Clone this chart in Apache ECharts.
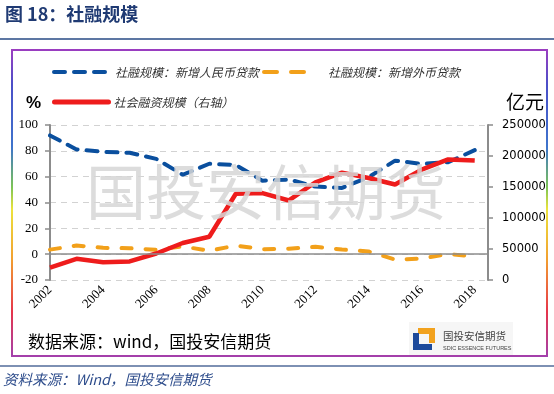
<!DOCTYPE html>
<html>
<head>
<meta charset="utf-8">
<script src="https://cdn.jsdelivr.net/npm/echarts@6/dist/echarts.min.js"></script>
<style>
html,body{margin:0;padding:0;background:#fff;}
#c{width:554px;height:394px;}
</style>
</head>
<body>
<div id="c"></div>
<script>
const years = [2002,2003,2004,2005,2006,2007,2008,2009,2010,2011,2012,2013,2014,2015,2016,2017,2018];
const rmbLoanShare = [91.9,81.1,79.2,78.5,73.8,61.5,70.0,69.0,56.9,57.8,52.3,51.3,59.6,72.4,69.9,71.2,80.5];
const fxLoanShare = [3.5,6.7,4.9,4.6,3.4,6.0,2.6,6.7,3.8,4.2,5.7,3.6,2.1,-4.2,-3.4,0.1,-1.9];
const tsfScale = [20112,34113,28629,30008,42696,59663,69802,139104,140191,128286,157631,173169,164571,154086,178022,194430,192584];
const xTickYears = [2002,2004,2006,2008,2010,2012,2014,2016,2018];
const seriesNames = ['社融规模：新增人民币贷款','社融规模：新增外币贷款','社会融资规模（右轴）'];

const pair = (vals) => years.map((y,i)=>[y, vals[i]]);
const chart = echarts.init(document.getElementById('c'));
const legendText = {fontSize:12, fontStyle:'italic', color:'#333', fontFamily:'Noto Sans CJK SC'};
const noSym = {color:'transparent', borderColor:'transparent', borderWidth:0, opacity:0};
const option = {
  animation:false,
  backgroundColor:'#fff',
  grid:{left:50, right:66, top:125, bottom:114, containLabel:false},
  legend:[
    {data:[seriesNames[0]], left:52, top:66, padding:0, itemWidth:56, itemHeight:14, itemGap:0, textStyle:legendText, itemStyle:noSym,
      lineStyle:{width:4, color:'#0a4f9e', type:[11,9], cap:'round'}},
    {data:[seriesNames[1]], left:262, top:66, padding:0, itemWidth:51, itemHeight:14, itemGap:0, textStyle:legendText, itemStyle:noSym, formatter:'   {name}',
      lineStyle:{width:4, color:'#f2a01a', type:[13,14], cap:'round'}},
    {data:[seriesNames[2]], left:52, top:96, padding:0, itemWidth:54, itemHeight:14, itemGap:0, textStyle:legendText, itemStyle:noSym,
      lineStyle:{width:5, color:'#ee1c1c', type:'solid', cap:'round'}}
  ],
  xAxis:{
    type:'value', min:2002, max:2018.5, interval:2,
    axisLine:{show:false, onZero:false}, axisTick:{show:false}, splitLine:{show:false},
    axisLabel:{rotate:45, margin:8, fontFamily:'Liberation Serif', fontSize:13, color:'#000',
      formatter:(v)=> xTickYears.includes(v) ? String(v) : ''}
  },
  yAxis:[
    {type:'value', min:-20, max:100, interval:20, position:'left',
      axisLine:{show:true, lineStyle:{color:'#8c8c8c', width:2}},
      axisTick:{show:true, length:5, lineStyle:{color:'#8c8c8c', width:1.5}},
      axisLabel:{fontFamily:'Liberation Serif', fontSize:13, color:'#000', margin:12},
      splitLine:{show:true, lineStyle:{color:'#d2d2d2', type:[6,5], width:1.2}}},
    {type:'value', min:0, max:250000, interval:50000, position:'right',
      axisLine:{show:true, lineStyle:{color:'#8c8c8c', width:2}},
      axisTick:{show:true, length:5, lineStyle:{color:'#8c8c8c', width:1.5}},
      axisLabel:{fontFamily:'DejaVu Sans', fontSize:11.5, color:'#000', margin:14, formatter:(v)=>String(v)},
      splitLine:{show:false}}
  ],
  series:[
    {name:seriesNames[0], type:'line', yAxisIndex:0, data:pair(rmbLoanShare), symbol:'none',
      lineStyle:{color:'#0a4f9e', width:4, type:[11,9], cap:'round'}, itemStyle:{color:'#0a4f9e'}, z:3,
      markLine:{silent:true, symbol:'none', label:{show:false},
        lineStyle:{color:'#8c8c8c', width:1.5, type:'solid'}, data:[{yAxis:0}]}},
    {name:seriesNames[1], type:'line', yAxisIndex:0, data:pair(fxLoanShare), symbol:'none',
      lineStyle:{color:'#f2a01a', width:4, type:[10,14], cap:'round'}, itemStyle:{color:'#f2a01a'}, z:3},
    {name:seriesNames[2], type:'line', yAxisIndex:1, data:pair(tsfScale), symbol:'none',
      lineStyle:{color:'#ee1c1c', width:4.5, type:'solid'}, itemStyle:{color:'#ee1c1c'}, z:4}
  ],
  graphic:[
    {type:'text', left:5, top:5, style:{text:'图 18：社融规模', fontSize:18, fontWeight:'bold', fill:'#1f3a73', fontFamily:'Noto Sans CJK SC'}},
    {type:'line', shape:{x1:0, y1:39, x2:554, y2:39}, style:{stroke:'#5d77a3', lineWidth:2}},
    {type:'rect', shape:{x:12, y:50, width:535, height:306}, z:-5,
      style:{fill:'none', lineWidth:2,
        stroke:new echarts.graphic.LinearGradient(0,0,0,1,[
          {offset:0, color:'#a03cc0'},{offset:0.12, color:'#4a4fc8'},{offset:0.32, color:'#3e74cc'},
          {offset:0.45, color:'#7cc455'},{offset:0.52, color:'#ece33c'},{offset:0.68, color:'#f2a030'},
          {offset:0.85, color:'#e6344a'},{offset:1, color:'#a040b0'}])}},
    {type:'text', left:26, top:95, style:{text:'%', fontSize:17, fontWeight:'bold', fill:'#000', fontFamily:'Liberation Sans'}},
    {type:'text', left:506, top:92, style:{text:'亿元', fontSize:19, fill:'#000', fontFamily:'Noto Sans CJK SC'}},
    {type:'text', x:266, y:192, z:10, style:{text:'国投安信期货', fontSize:60, fill:'#d6d6d6', opacity:0.85, align:'center', verticalAlign:'middle', fontFamily:'Noto Sans CJK SC'}},
    {type:'text', left:28, top:333, style:{text:'数据来源：wind，国投安信期货', fontSize:17, fill:'#000', fontFamily:'Noto Sans CJK SC'}},
    {type:'rect', shape:{x:409, y:322, width:104, height:33}, z:-4, style:{fill:'#f6f6f6'}},
    {type:'polygon', shape:{points:[[418,328],[435,328],[435,343],[429,343],[429,334],[418,334]]}, style:{fill:'#f2a21e'}},
    {type:'polygon', shape:{points:[[413,333],[419,333],[419,344],[432,344],[432,350],[413,350]]}, style:{fill:'#1d4a9b'}},
    {type:'text', left:443, top:331, style:{text:'国投安信期货', fontSize:10.5, fill:'#444', fontFamily:'Noto Sans CJK SC'}},
    {type:'text', left:443, top:345, style:{text:'SDIC ESSENCE FUTURES', fontSize:5.5, fill:'#444', fontFamily:'Liberation Sans'}},
    {type:'line', shape:{x1:0, y1:366, x2:554, y2:366}, style:{stroke:'#7d90b3', lineWidth:2}},
    {type:'text', left:3, top:372, style:{text:'资料来源：Wind，国投安信期货', fontSize:14.5, fontStyle:'italic', fill:'#2e4d8c', fontFamily:'Noto Sans CJK SC'}}
  ]
};
chart.setOption(option);
</script>
</body>
</html>
